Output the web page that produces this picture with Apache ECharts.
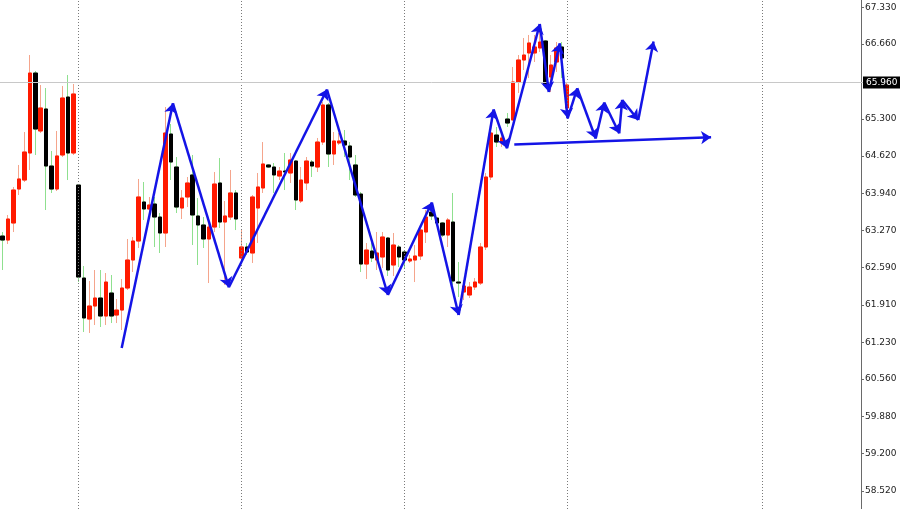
<!DOCTYPE html>
<html>
<head>
<meta charset="utf-8">
<script src="https://cdn.jsdelivr.net/npm/echarts@6/dist/echarts.min.js"></script>
<style>html,body{margin:0;padding:0;background:#fff;}#c{width:900px;height:509px;}</style>
</head>
<body>
<div id="c"></div>
<script>
// ---- data ----
const slotCount = 159;
const categories = Array.from({length: slotCount}, (_, i) => 'Bar ' + (i + 1));

const openPrices = [63.164,63.091,63.401,64.020,64.184,64.676,66.133,65.077,65.478,64.439,64.020,64.640,65.696,64.676,64.093,62.399,61.652,61.889,62.035,61.707,62.126,61.725,61.816,62.217,62.727,63.073,63.784,63.656,63.747,63.510,63.219,65.022,64.421,63.674,63.875,64.276,63.529,63.365,63.110,63.328,64.130,63.419,63.510,63.948,62.764,62.964,62.855,63.674,64.039,64.458,64.421,64.257,64.348,64.312,64.530,63.802,64.130,64.512,64.421,64.876,65.551,64.658,64.858,64.895,64.804,64.458,63.929,62.654,62.891,62.727,62.782,63.128,62.636,62.964,62.873,62.709,62.727,62.800,63.237,63.601,63.492,63.401,63.182,63.419,62.326,62.144,62.090,62.235,62.308,62.964,64.239,65.004,64.858,65.295,65.277,65.969,66.370,66.498,66.498,66.589,66.716,66.060,66.334,66.607,65.496];
const closePrices = [63.091,63.474,64.002,64.203,64.694,66.133,65.113,65.496,64.439,64.020,64.622,65.678,64.676,65.751,62.417,61.671,61.889,62.035,61.707,62.326,61.707,61.816,62.217,62.727,63.073,63.875,63.656,63.729,63.510,63.219,65.040,64.512,63.692,63.856,64.130,63.547,63.365,63.110,63.328,64.111,63.419,63.529,63.948,63.474,62.964,62.873,63.875,64.057,64.476,64.421,64.276,64.348,64.330,64.549,63.820,64.184,64.530,64.439,64.876,65.551,64.658,64.895,64.895,64.822,64.603,63.911,62.654,62.909,62.764,62.855,63.146,62.545,63.000,62.782,62.727,62.745,62.800,63.273,63.510,63.529,63.401,63.182,63.456,62.345,62.308,62.254,62.235,62.326,62.964,64.239,65.040,64.876,64.950,65.222,65.969,66.370,66.461,66.680,66.607,66.698,65.915,66.279,66.589,66.407,65.915];
const lowPrices = [62.545,63.019,63.237,63.911,64.148,64.367,64.640,65.040,63.638,63.948,63.984,64.603,64.184,64.640,62.326,61.416,61.398,61.543,61.507,61.543,61.579,61.579,61.452,62.181,62.509,62.946,63.456,63.510,62.964,62.855,62.964,64.184,63.583,63.474,63.692,63.000,62.636,62.946,62.308,63.237,63.310,62.272,63.456,63.273,62.727,62.818,62.673,63.037,63.948,64.403,63.948,64.184,64.002,64.130,63.638,63.765,64.002,64.239,64.330,64.822,64.421,64.458,64.822,64.603,64.184,63.875,62.509,62.381,62.691,62.545,62.582,62.436,62.436,62.600,62.582,62.673,62.326,62.727,63.037,63.456,63.365,63.146,62.964,62.272,62.053,61.999,62.035,62.181,62.272,62.909,64.184,64.785,64.785,65.150,65.277,65.769,66.188,66.042,66.334,66.516,65.860,65.787,66.152,66.042,65.368];
const highPrices = [63.237,63.547,64.057,64.458,65.059,66.461,66.170,65.915,65.860,64.713,65.077,65.897,66.097,65.933,64.093,62.618,62.345,62.545,62.545,62.490,62.454,62.017,62.381,63.110,63.146,64.203,64.148,63.875,63.875,63.583,65.514,65.204,64.603,64.002,64.239,64.640,63.856,63.510,63.401,64.330,64.585,63.802,64.367,64.002,63.273,63.037,63.911,64.312,64.876,64.476,64.494,64.421,64.676,64.676,64.549,64.421,64.603,64.549,64.950,65.605,65.587,65.059,65.040,65.095,64.876,64.640,63.966,63.037,63.037,63.237,63.237,63.146,63.219,63.000,62.909,62.818,63.000,63.328,63.638,63.765,63.510,63.419,63.492,63.948,62.691,62.363,62.326,62.399,63.037,64.312,65.131,65.150,65.059,65.405,66.243,66.461,66.771,66.826,66.826,66.880,66.735,66.461,66.698,66.698,65.969];

// zigzag arrow path (bar position, price)
const zigzagPos   = [21.92,31.36,41.67,59.74,70.97,79.07,84.00,90.44,92.91,98.95,100.62,102.63,104.08,105.85,109.25,110.82,113.58,114.13,117.09,119.91];
const zigzagPrice = [61.124,65.581,62.230,65.833,62.090,63.774,61.725,65.468,64.762,67.026,65.787,66.671,65.308,65.855,64.940,65.596,65.035,65.642,65.277,66.707];
// support line (bar position, price)
const trendPos   = [94.25,130.51];
const trendPrice = [64.831,64.962];

// day separators (bar index)
const separatorBars = [14,44,74,104,140];
const currentPrice = 65.960;
const tickLabels = ['67.330','66.660','65.300','64.620','63.940','63.270','62.590','61.910','61.230','60.560','59.880','59.200','58.520'];

// ---- build ----
const wickData = openPrices.map((o, i) => [o, closePrices[i], lowPrices[i], highPrices[i]]);
const bodyData = openPrices.map((o, i) => [o, closePrices[i], Math.min(o, closePrices[i]), Math.max(o, closePrices[i])]);
const segments = [];
for (let i = 1; i < zigzagPos.length; i++) {
  segments.push({coords: [[zigzagPos[i-1], zigzagPrice[i-1]], [zigzagPos[i], zigzagPrice[i]]]});
}
segments.push({coords: [[trendPos[0], trendPrice[0]], [trendPos[1], trendPrice[1]]]});
const tickValues = tickLabels.map(Number);

const chart = echarts.init(document.getElementById('c'), null, {renderer: 'canvas'});
chart.setOption({
  animation: false,
  backgroundColor: '#ffffff',
  grid: {left: -0.8, right: 37, top: 0, bottom: 0, containLabel: false},
  xAxis: [
    {type: 'category', data: categories, boundaryGap: true, show: false},
    {type: 'value', min: -0.5, max: slotCount - 0.5, show: false}
  ],
  yAxis: {
    type: 'value', position: 'right', offset: -2,
    min: 58.192, max: 67.463, scale: true,
    axisLine: {show: true, onZero: false, lineStyle: {color: '#6a6a6a', width: 1}},
    axisTick: {show: true, customValues: tickValues, length: 3, inside: false, lineStyle: {color: '#6a6a6a'}},
    axisLabel: {
      customValues: tickValues, margin: 4, fontSize: 9, color: '#222',
      fontFamily: 'DejaVu Sans', formatter: v => v.toFixed(3)
    },
    splitLine: {show: false}
  },
  series: [
    {
      type: 'candlestick', name: 'wick', data: wickData, barWidth: 4,
      itemStyle: {color: '#ff1a00', color0: '#000000', borderColor: '#f5a58c', borderColor0: '#8fe08f', borderWidth: 1},
      markLine: {
        silent: true, symbol: ['none', 'none'], animation: false,
        data: separatorBars.map(b => ({xAxis: b})),
        lineStyle: {color: '#7a7a7a', type: [1, 2], width: 1},
        label: {show: false}
      },
      z: 2
    },
    {
      type: 'candlestick', name: 'body', data: bodyData, barWidth: 4,
      itemStyle: {color: '#ff1a00', color0: '#000000', borderColor: '#ff1a00', borderColor0: '#000000', borderWidth: 1},
      markLine: {
        silent: true, symbol: ['none', 'none'], animation: false,
        data: [{yAxis: currentPrice}],
        lineStyle: {color: '#c8c8c8', type: 'solid', width: 1},
        label: {show: true, position: 'end', distance: 0, formatter: currentPrice.toFixed(3),
          backgroundColor: '#000', color: '#fff', fontSize: 9, fontFamily: 'DejaVu Sans', padding: [2, 3, 1, 3]}
      },
      z: 3
    },
    {
      type: 'lines', coordinateSystem: 'cartesian2d', xAxisIndex: 1, yAxisIndex: 0,
      symbol: ['none', 'arrow'], symbolSize: 10,
      lineStyle: {color: '#1414e6', width: 2.5, opacity: 1, curveness: 0},
      data: segments, z: 5, silent: true
    }
  ]
});
</script>
</body>
</html>
